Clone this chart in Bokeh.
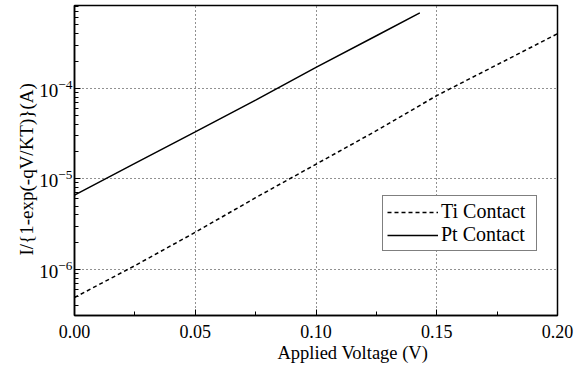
from bokeh.plotting import figure
from bokeh.models import (FixedTicker, PrintfTickFormatter, LogTickFormatter,
                          Range1d, Title)
from bokeh.embed import file_html
from bokeh.resources import INLINE

# ---- data ----
pt_voltage = [0.000, 0.025, 0.050, 0.075, 0.100, 0.125, 0.143]
pt_current = [6.6e-6, 1.48e-5, 3.3e-5, 7.4e-5, 1.70e-4, 3.8e-4, 6.8e-4]

ti_voltage = [0.000, 0.025, 0.050, 0.075, 0.100, 0.125, 0.150, 0.175, 0.200]
ti_current = [4.9e-7, 1.1e-6, 2.57e-6, 6.2e-6, 1.45e-5, 3.4e-5, 8.3e-5, 1.82e-4, 4.0e-4]

x_ticks = [0.00, 0.05, 0.10, 0.15, 0.20]
x_minor_ticks = [0.025, 0.075, 0.125, 0.175]
y_ticks = [1e-6, 1e-5, 1e-4]
y_minor_mult = [2, 3, 4, 5, 6, 7, 8, 9]
y_decades = [1e-7, 1e-6, 1e-5, 1e-4]

x_label = "Applied Voltage (V)"
y_label = "I/{1-exp(-qV/KT)}(A)"
series_names = ["Ti Contact", "Pt Contact"]

FONT = "Liberation Serif"

p = figure(width=588, height=376, y_axis_type="log",
           x_range=Range1d(0.0, 0.2), y_range=Range1d(3.1e-7, 8.2e-4),
           output_backend="svg", toolbar_location=None,
           min_border_left=74, min_border_right=31,
           min_border_top=5, min_border_bottom=61)

p.background_fill_color = "white"
p.border_fill_color = "white"
p.outline_line_color = "black"
p.outline_line_width = 1.5

p.line(ti_voltage, ti_current, line_color="black", line_width=1.5,
       line_dash="4 3", legend_label=series_names[0])
p.line(pt_voltage, pt_current, line_color="black", line_width=1.5,
       legend_label=series_names[1])

# axes
xa = p.xaxis[0]
xa.ticker = FixedTicker(ticks=x_ticks, minor_ticks=x_minor_ticks)
xa.formatter = PrintfTickFormatter(format="%.2f")
ya = p.yaxis[0]
y_minor = [d * m for d in y_decades for m in y_minor_mult]
ya.ticker = FixedTicker(ticks=y_ticks, minor_ticks=y_minor)
ya.formatter = LogTickFormatter()

for ax in (xa, ya):
    ax.axis_line_color = "black"
    ax.axis_line_width = 1.5
    ax.major_tick_in = 6
    ax.major_tick_out = 0
    ax.minor_tick_in = 4
    ax.minor_tick_out = 0
    ax.major_tick_line_color = "black"
    ax.minor_tick_line_color = "black"
    ax.major_tick_line_width = 1
    ax.minor_tick_line_width = 1
    ax.major_label_text_font = FONT
    ax.major_label_text_color = "black"

xa.major_label_text_font_size = "18px"
xa.major_label_standoff = 9
ya.major_label_text_font_size = "19px"
ya.major_label_standoff = 2

# axis titles, positioned as in the reference (slightly off-centre)
p.add_layout(Title(text=x_label, align="left", offset=203, text_font=FONT,
                   text_font_size="18.5px", text_font_style="normal",
                   text_color="black", standoff=0), "below")
p.add_layout(Title(text=y_label, align="left", offset=60, text_font=FONT,
                   text_font_size="19px", text_font_style="normal",
                   text_color="black", standoff=0), "left")

# grid
for g in (p.xgrid[0], p.ygrid[0]):
    g.grid_line_color = "#222222"
    g.grid_line_dash = "1 3"
    g.grid_line_width = 1
p.xgrid[0].ticker = FixedTicker(ticks=x_ticks[1:-1])
p.ygrid[0].ticker = FixedTicker(ticks=y_ticks)

# legend
lg = p.legend[0]
lg.location = (308, 64)
lg.border_line_color = "black"
lg.border_line_width = 1
lg.background_fill_color = "white"
lg.background_fill_alpha = 1
lg.label_text_font = FONT
lg.label_text_font_size = "20px"
lg.label_text_color = "black"
lg.padding = 4
lg.spacing = 0
lg.margin = 0
lg.glyph_width = 51
lg.glyph_height = 20
lg.label_height = 20
lg.label_width = 91
lg.label_standoff = 3

open("out.html", "w").write(file_html(p, INLINE))
